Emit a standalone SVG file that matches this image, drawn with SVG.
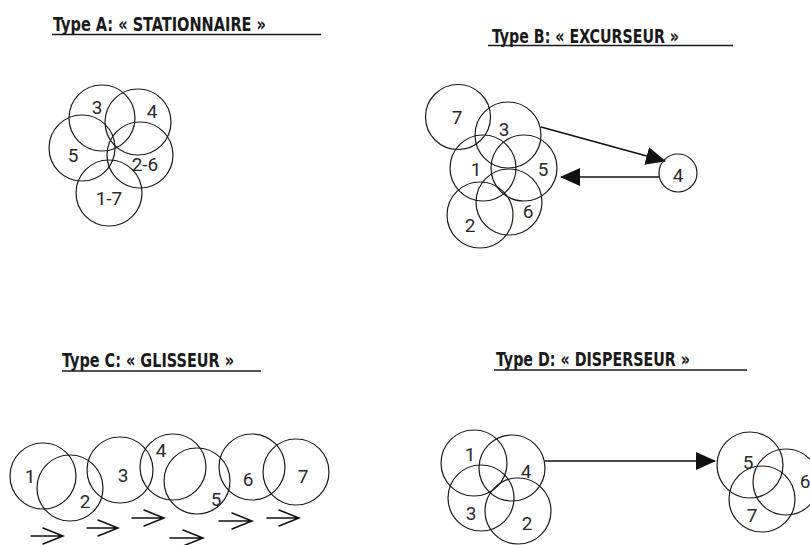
<svg xmlns="http://www.w3.org/2000/svg" width="810" height="545" viewBox="0 0 810 545">
  <style>
    .bg { fill: #ffffff; }
    .title { font-family: "DejaVu Sans Condensed", "DejaVu Sans", "Liberation Sans", sans-serif; font-stretch: condensed; font-weight: bold; font-size: 19px; fill: #1a1a1a; }
    .rule { stroke: #1a1a1a; stroke-width: 1.6; fill: none; }
    .zone { fill: none; stroke: #1a1a1a; stroke-width: 1.2; }
    .num { font-family: Roboto, "DejaVu Sans", "Liberation Sans", sans-serif; font-weight: 400; font-size: 19px; fill: #2a2a2a; text-anchor: middle; }
    .link { stroke: #111111; stroke-width: 1.6; fill: none; }
    .step { stroke: #111111; stroke-width: 1.5; fill: none; stroke-linecap: round; stroke-linejoin: miter; }
  </style>
  <defs>
    <marker id="solidHead" viewBox="0 0 20 18" refX="19" refY="9" markerWidth="20" markerHeight="18" markerUnits="userSpaceOnUse" orient="auto">
      <path d="M0,0 L20,9 L0,18 Z" fill="#111111"/>
    </marker>
  </defs>
  <rect class="bg" x="0" y="0" width="810" height="545"/>

  <!-- Type A: stationary -->
  <g id="typeA">
    <text class="title" x="53" y="31" textLength="213" lengthAdjust="spacingAndGlyphs">Type A: « STATIONNAIRE »</text>
    <line class="rule" x1="52" y1="34.5" x2="321" y2="34.5"/>
    <g id="a3"><circle class="zone" cx="102" cy="118" r="33"/><text class="num" x="97" y="114">3</text></g>
    <g id="a4"><circle class="zone" cx="138" cy="122" r="33"/><text class="num" x="152" y="118">4</text></g>
    <g id="a5"><circle class="zone" cx="82" cy="148" r="33"/><text class="num" x="73" y="162">5</text></g>
    <g id="a26"><circle class="zone" cx="140" cy="155" r="33"/><text class="num" x="145" y="171">2-6</text></g>
    <g id="a17"><circle class="zone" cx="109" cy="193" r="33"/><text class="num" x="109" y="205">1-7</text></g>
  </g>

  <!-- Type B: excursion -->
  <g id="typeB">
    <text class="title" x="492" y="43" textLength="187" lengthAdjust="spacingAndGlyphs">Type B: « EXCURSEUR »</text>
    <line class="rule" x1="488" y1="45.5" x2="733" y2="45.5"/>
    <g id="b7"><circle class="zone" cx="458" cy="117" r="32.5"/><text class="num" x="457" y="124">7</text></g>
    <g id="b3"><circle class="zone" cx="508" cy="135" r="33"/><text class="num" x="504" y="136">3</text></g>
    <g id="b1"><circle class="zone" cx="483" cy="168" r="33"/><text class="num" x="476" y="176">1</text></g>
    <g id="b5"><circle class="zone" cx="524" cy="168" r="33"/><text class="num" x="543" y="176">5</text></g>
    <g id="b6"><circle class="zone" cx="509" cy="202" r="33"/><text class="num" x="528" y="218">6</text></g>
    <g id="b2"><circle class="zone" cx="480" cy="215" r="33"/><text class="num" x="470" y="232">2</text></g>
    <g id="b4"><circle class="zone" cx="678" cy="173" r="19"/><text class="num" x="678" y="182">4</text></g>
  </g>

  <!-- Type C: gliding -->
  <g id="typeC">
    <text class="title" x="62" y="367" textLength="172" lengthAdjust="spacingAndGlyphs">Type C: « GLISSEUR »</text>
    <line class="rule" x1="62" y1="371" x2="261" y2="371"/>
    <g id="c1"><circle class="zone" cx="43" cy="476" r="33"/><text class="num" x="30" y="483">1</text></g>
    <g id="c2"><circle class="zone" cx="70" cy="488" r="33"/><text class="num" x="85" y="508">2</text></g>
    <g id="c3"><circle class="zone" cx="120" cy="470" r="33"/><text class="num" x="123" y="482">3</text></g>
    <g id="c4"><circle class="zone" cx="173" cy="467" r="33"/><text class="num" x="161" y="457">4</text></g>
    <g id="c5"><circle class="zone" cx="197" cy="481" r="33"/><text class="num" x="216" y="506">5</text></g>
    <g id="c6"><circle class="zone" cx="252" cy="467" r="33"/><text class="num" x="248" y="486">6</text></g>
    <g id="c7"><circle class="zone" cx="296" cy="472" r="33"/><text class="num" x="303" y="483">7</text></g>
  </g>

  <!-- Type D: dispersal -->
  <g id="typeD">
    <text class="title" x="496" y="366" textLength="194" lengthAdjust="spacingAndGlyphs">Type D: « DISPERSEUR »</text>
    <line class="rule" x1="494" y1="370" x2="747" y2="370"/>
    <g id="d1"><circle class="zone" cx="474" cy="463" r="33"/><text class="num" x="470" y="461">1</text></g>
    <g id="d4"><circle class="zone" cx="512" cy="468" r="33"/><text class="num" x="526" y="478">4</text></g>
    <g id="d3"><circle class="zone" cx="481" cy="498" r="33"/><text class="num" x="471" y="520">3</text></g>
    <g id="d2"><circle class="zone" cx="518" cy="511" r="33"/><text class="num" x="527" y="530">2</text></g>
    <g id="d5"><circle class="zone" cx="750" cy="465" r="33"/><text class="num" x="748" y="469">5</text></g>
    <g id="d6"><circle class="zone" cx="786" cy="482" r="33"/><text class="num" x="805" y="488">6</text></g>
    <g id="d7"><circle class="zone" cx="762" cy="499" r="33"/><text class="num" x="752" y="522">7</text></g>
  </g>

  <!-- Connectors -->
  <g id="connectors">
    <line class="link" x1="541" y1="127" x2="665" y2="161" marker-end="url(#solidHead)"/>
    <line class="link" x1="659" y1="177" x2="561" y2="177" marker-end="url(#solidHead)"/>
    <line class="link" x1="545" y1="461" x2="715" y2="461" marker-end="url(#solidHead)"/>
    <!-- open step arrows under the gliding sequence -->
    <path class="step" d="M31,536 H63 M43,528 L63,536 L43,544"/>
    <path class="step" d="M87,528 H118 M98,520 L118,528 L98,536"/>
    <path class="step" d="M132,518 H164 M144,510 L164,518 L144,526"/>
    <path class="step" d="M170,538 H203 M183,530 L203,538 L183,546"/>
    <path class="step" d="M219,521 H252 M232,513 L252,521 L232,529"/>
    <path class="step" d="M267,518 H299 M279,510 L299,518 L279,526"/>
  </g>
</svg>
